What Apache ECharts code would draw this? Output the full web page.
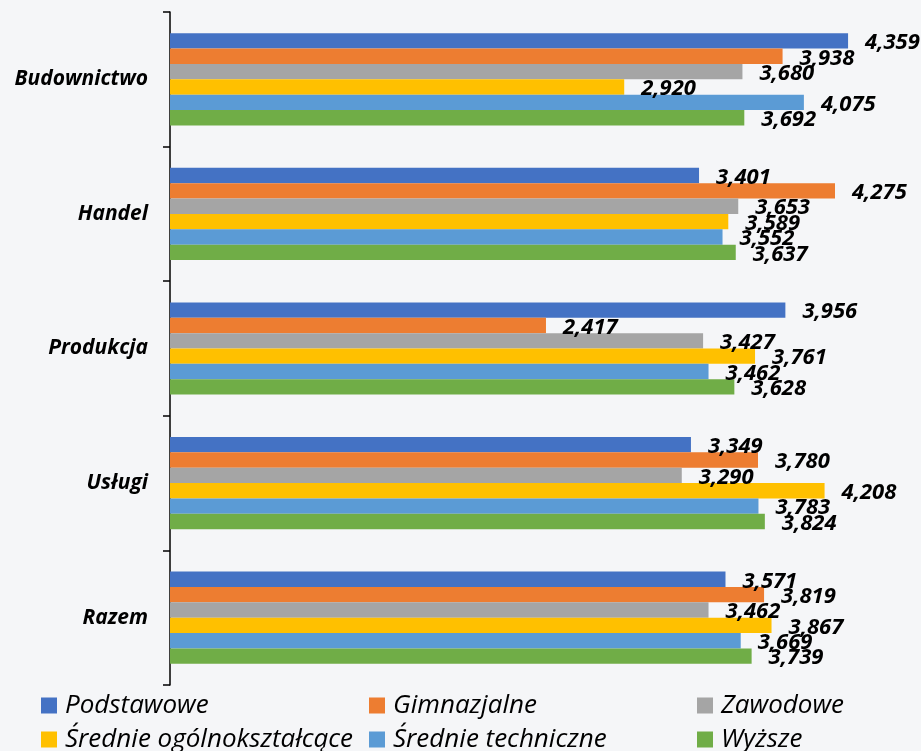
<!DOCTYPE html>
<html>
<head>
<meta charset="utf-8">
<script src="https://cdn.jsdelivr.net/npm/echarts@6/dist/echarts.min.js"></script>
<style>
  html, body { margin: 0; padding: 0; background: #F5F6F8; }
  #chart { width: 921px; height: 751px; }
</style>
</head>
<body>
<div id="chart"></div>
<script>
// Sectors (top to bottom)
const categories = ['Budownictwo', 'Handel', 'Produkcja', 'Usługi', 'Razem'];

// Education levels
const seriesNames = ['Podstawowe', 'Gimnazjalne', 'Zawodowe', 'Średnie ogólnokształcące', 'Średnie techniczne', 'Wyższe'];
const seriesColors = ['#4472C4', '#ED7D31', '#A5A5A5', '#FFC000', '#5B9BD5', '#70AD47'];

// Values per education level, in sector order
const podstawowe = [4.359, 3.401, 3.956, 3.349, 3.571];
const gimnazjalne = [3.938, 4.275, 2.417, 3.780, 3.819];
const zawodowe = [3.680, 3.653, 3.427, 3.290, 3.462];
const srednieOgolne = [2.920, 3.589, 3.761, 4.208, 3.867];
const srednieTechniczne = [4.075, 3.552, 3.462, 3.783, 3.669];
const wyzsze = [3.692, 3.637, 3.628, 3.824, 3.739];

const values = [podstawowe, gimnazjalne, zawodowe, srednieOgolne, srednieTechniczne, wyzsze];

const fmt = v => v.toFixed(3).replace('.', ',');

const series = seriesNames.map((name, i) => ({
  name,
  type: 'bar',
  data: values[i],
  barGap: '0%',
  barCategoryGap: '31.5%',
  itemStyle: { color: seriesColors[i] },
  label: {
    show: true,
    position: 'right',
    distance: 17,
    offset: [0, 2],
    formatter: p => fmt(p.value),
    fontFamily: 'Open Sans',
    fontSize: 22,
    fontWeight: 'bold',
    fontStyle: 'italic',
    color: '#000'
  }
}));

// Legend laid out as a 3 x 2 grid, one legend block per entry
const legendCols = [41, 369, 697];
const legendRows = [692.5, 726.5];
const legends = seriesNames.map((name, i) => ({
  orient: 'horizontal',
  left: legendCols[i % 3],
  top: legendRows[Math.floor(i / 3)],
  data: [name],
  icon: 'rect',
  itemWidth: 16,
  itemHeight: 16,
  itemGap: 0,
  padding: 0,
  selectedMode: false,
  textStyle: {
    fontFamily: 'Open Sans',
    fontSize: 26,
    lineHeight: 26,
    fontStyle: 'italic',
    color: '#000',
    padding: [0, 0, 0, 3]
  }
}));

const chart = echarts.init(document.getElementById('chart'), null, { renderer: 'canvas' });
chart.setOption({
  backgroundColor: '#F5F6F8',
  animation: false,
  grid: { left: 170, top: 12, width: 700, height: 673, containLabel: false },
  xAxis: {
    type: 'value',
    min: 0,
    max: 4.5,
    show: false
  },
  yAxis: {
    type: 'category',
    data: categories,
    inverse: true,
    axisLine: { show: true, lineStyle: { color: '#000', width: 1.5 } },
    axisTick: { show: true, length: 7, lineStyle: { color: '#000', width: 1.5 } },
    axisLabel: {
      margin: 22,
      fontFamily: 'Open Sans',
      fontSize: 21,
      fontWeight: 'bold',
      fontStyle: 'italic',
      color: '#000'
    },
    splitLine: { show: false }
  },
  legend: legends,
  series
});
</script>
</body>
</html>
